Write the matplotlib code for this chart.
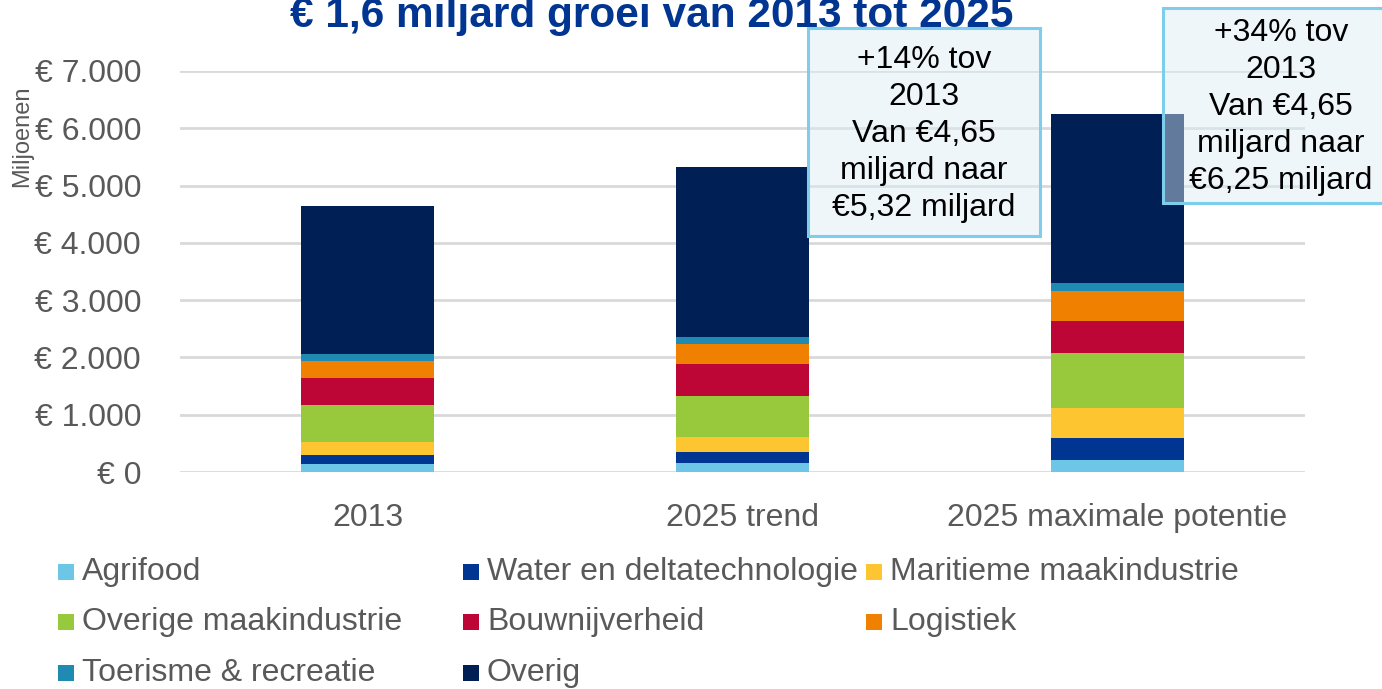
import matplotlib
matplotlib.use("Agg")
import matplotlib.pyplot as plt
from matplotlib.patches import Rectangle
import numpy as np

# data (miljoenen euro)
categories = ["2013", "2025 trend", "2025 maximale potentie"]
series_names = ["Agrifood", "Water en deltatechnologie", "Maritieme maakindustrie",
                "Overige maakindustrie", "Bouwnijverheid", "Logistiek",
                "Toerisme & recreatie", "Overig"]
agrifood = [140, 152, 215]
water = [157, 197, 384]
maritiem = [232, 267, 523]
overige_maak = [635, 716, 955]
bouw = [471, 548, 553]
logistiek = [307, 349, 524]
toerisme = [112, 127, 139]
overig = [2596, 2964, 2957]
yticks = [0, 1000, 2000, 3000, 4000, 5000, 6000, 7000]
ytick_labels = ["€ 0", "€ 1.000", "€ 2.000", "€ 3.000", "€ 4.000", "€ 5.000", "€ 6.000", "€ 7.000"]
notes = ["+14% tov\n2013\nVan €4,65\nmiljard naar\n€5,32 miljard",
         "+34% tov\n2013\nVan €4,65\nmiljard naar\n€6,25 miljard"]

colors = ["#6EC6E6", "#003591", "#FDC530", "#98C93C", "#BD0536", "#EF8000", "#1F8AB2", "#001F55"]
gray = "#595959"

plt.rcParams['font.family'] = ['Liberation Sans', 'DejaVu Sans']

W, H = 1382, 689
fig = plt.figure(figsize=(W / 100, H / 100), dpi=100)
ax = fig.add_axes([180 / W, 1 - 472 / H, (1305 - 180) / W, (472 - 71) / H])

values = [agrifood, water, maritiem, overige_maak, bouw, logistiek, toerisme, overig]
x = np.arange(len(categories))
bottom = np.zeros(len(categories))
for vals, col in zip(values, colors):
    ax.bar(x, vals, 0.355, bottom=bottom, color=col, zorder=3)
    bottom += np.array(vals)

ax.set_xlim(-0.5, 2.5)
ax.set_ylim(0, 7000)
ax.set_yticks(yticks)
ax.set_yticklabels(ytick_labels)
ax.set_xticks(x)
ax.set_xticklabels(categories)
ax.tick_params(axis='y', length=0, pad=28, labelsize=23, labelcolor=gray)
ax.tick_params(axis='x', length=0, pad=22, labelsize=23, labelcolor=gray)
ax.grid(axis='y', color='#D9D9D9', linewidth=2, zorder=0)
for s in ax.spines.values():
    s.set_visible(False)

fig.text(22 / W, 1 - 136 / H, "Miljoenen", rotation=90, ha='center', va='center',
         fontsize=17, color=gray)

# title sits partly above the top edge, as in the original
fig.text(652 / W, 1 - 27 / H, "€ 1,6 miljard groei van 2013 tot 2025", ha='center',
         va='baseline', fontsize=30.5, fontweight='bold', color='#003591')

# annotation boxes
boxes = [(808, 28, 1040, 236), (1163, 8, 1400, 203)]
text_pos = [(924, 134), (1281, 107)]
for (x0, y0, x1, y1), (tx, ty), note in zip(boxes, text_pos, notes):
    fig.patches.append(Rectangle((x0 / W, 1 - y1 / H), (x1 - x0) / W, (y1 - y0) / H,
                                 transform=fig.transFigure, facecolor=(0.86, 0.93, 0.965, 0.45),
                                 edgecolor='#7ECDEA', linewidth=2.2, zorder=5))
    fig.text(tx / W, 1 - ty / H, note, ha='center', va='center', fontsize=23,
             color='black', linespacing=1.31, zorder=6)

# legend
col_x = [58, 463, 866]
row_y = [572, 622, 673]
for i, (name, col) in enumerate(zip(series_names, colors)):
    cx = col_x[i % 3]
    cy = row_y[i // 3]
    fig.patches.append(Rectangle((cx / W, 1 - (cy + 8) / H), 16 / W, 16 / H,
                                 transform=fig.transFigure, facecolor=col, edgecolor='none'))
    fig.text((cx + 24) / W, 1 - cy / H, name, ha='left', va='center', fontsize=23, color=gray)

fig.savefig("out.png", dpi=100)
